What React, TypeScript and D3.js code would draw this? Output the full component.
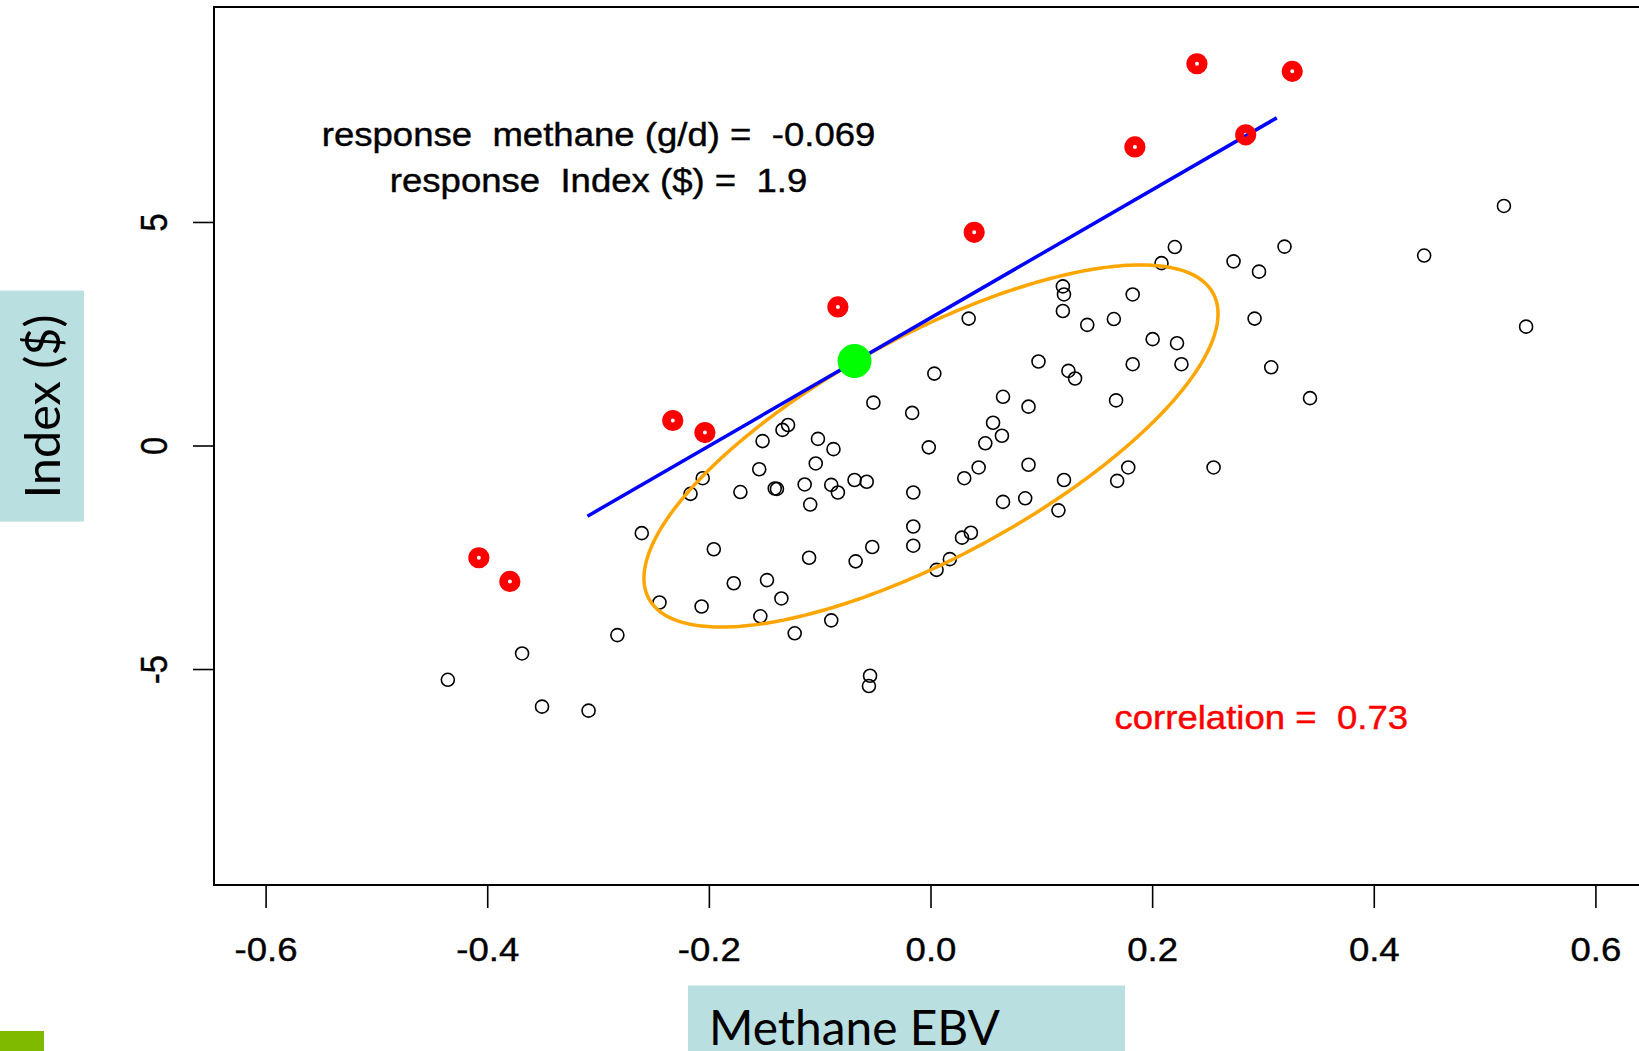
import React from 'react';
import * as d3 from 'd3';

// ---- data ----
const xTickValues = [-0.6, -0.4, -0.2, 0.0, 0.2, 0.4, 0.6];
const xTickLabels = ['-0.6', '-0.4', '-0.2', '0.0', '0.2', '0.4', '0.6'];
const yTickValues = [-5, 0, 5];
const yTickLabels = ['-5', '0', '5'];

const blackX = [
  -0.436, -0.369, -0.351, -0.309, -0.283, -0.261, -0.245, -0.217, -0.206, -0.207,
  -0.196, -0.178, -0.172, -0.155, -0.152, -0.154, -0.148, -0.141, -0.139, -0.135,
  -0.134, -0.129, -0.123, -0.114, -0.109, -0.110, -0.104, -0.102, -0.090, -0.084,
  -0.088, -0.090, -0.069, -0.058, -0.068, -0.055, -0.056, -0.053, -0.052, -0.017,
  -0.016, -0.016, -0.016, -0.002, 0.003, 0.005, 0.017, 0.028, 0.036, 0.030,
  0.034, 0.043, 0.049, 0.056, 0.064, 0.065, 0.065, 0.085, 0.088, 0.088,
  0.097, 0.115, 0.120, 0.119, 0.120, 0.119, 0.124, 0.130, 0.141, 0.165,
  0.167, 0.168, 0.178, 0.182, 0.182, 0.200, 0.208, 0.220, 0.222, 0.226,
  0.255, 0.273, 0.292, 0.296, 0.307, 0.319, 0.342, 0.445, 0.517, 0.537,
];
const blackY = [
  -5.23, -4.64, -5.83, -5.92, -4.23, -1.95, -3.50, -1.07, -0.72, -3.59,
  -2.31, -3.07, -1.03, -0.52, 0.11, -3.81, -3.00, -0.95, -0.96, -3.41,
  0.36, 0.47, -4.19, -0.86, -1.31, -2.50, -0.39, 0.16, -0.87, -1.04,
  -0.07, -3.90, -0.76, -0.80, -2.58, -5.14, -5.37, -2.26, 0.97, 0.74,
  -1.04, -1.80, -2.23, -0.03, 1.62, -2.77, -2.53, -2.05, -1.94, -0.72,
  2.85, -0.48, 0.06, 0.52, 0.23, 1.10, -1.25, -1.17, -0.42, 0.88,
  1.89, -1.44, -0.76, 3.57, 3.39, 3.02, 1.68, 1.51, 2.71, 2.84,
  1.02, -0.78, -0.48, 3.39, 1.83, 2.39, 4.09, 4.45, 2.30, 1.83,
  -0.48, 4.13, 2.85, 3.90, 1.76, 4.46, 1.07, 4.26, 5.37, 2.67,
];

const redX = [-0.408, -0.380, -0.233, -0.204, -0.084, 0.039, 0.184, 0.284, 0.240, 0.326];
const redY = [-2.50, -3.03, 0.57, 0.30, 3.11, 4.78, 6.69, 6.96, 8.55, 8.38];

const lineX = [-0.310, 0.312];
const lineY = [-1.57, 7.34];

const responseMethane = -0.069;
const responseIndex = 1.9;
const correlation = 0.73;

const ellipseCentre = [0, 0];
const ellipseScale = [0.259, 4.05];

const W = 1639;
const H = 1051;
const R_FONT = "'Liberation Sans', Arial, Helvetica, sans-serif";
const PPT_FONT = "Lato, 'Open Sans', sans-serif";
const FS = 32.5;
const STRETCH = 1.125;

export default function App() {
  const x = d3.scaleLinear().domain([-0.647, 0.647]).range([214, 1648]);
  const y = d3.scaleLinear().domain([-9.82, 9.82]).range([885, 7]);

  const delta = Math.acos(correlation);
  const ts = d3.range(0, 361).map((i) => (i * 2 * Math.PI) / 360);
  const ellPts = ts.map((t) => [
    ellipseCentre[0] + ellipseScale[0] * Math.cos(t),
    ellipseCentre[1] + ellipseScale[1] * Math.cos(t - delta),
  ]);
  const lineGen = d3
    .line()
    .x((p: any) => x(p[0]))
    .y((p: any) => y(p[1]));
  const ellPath = lineGen(ellPts as any) + 'Z';
  const regPath = lineGen(lineX.map((v, i) => [v, lineY[i]]) as any);

  const blacks = blackX.map((v, i) => [v, blackY[i]]);
  const reds = redX.map((v, i) => [v, redY[i]]);

  const textStyle: any = { whiteSpace: 'pre' };

  return (
    <svg
      width={W}
      height={H}
      viewBox={`0 0 ${W} ${H}`}
      style={{ position: 'absolute', left: 0, top: 0, display: 'block', background: '#fff' }}
    >
      <rect x={0} y={0} width={W} height={H} fill="#fff" />

      {/* plot box */}
      <rect x={x(-0.647)} y={y(9.82)} width={x(0.647) - x(-0.647)} height={y(-9.82) - y(9.82)} fill="none" stroke="#000" strokeWidth={2} />

      {/* x axis ticks */}
      {xTickValues.map((v, i) => (
        <g key={'xt' + i}>
          <line x1={x(v)} x2={x(v)} y1={885} y2={908} stroke="#000" strokeWidth={1.6} />
          <g transform={`translate(${x(v)},961) scale(${STRETCH},1)`}>
            <text x={0} y={0} textAnchor="middle" fontFamily={R_FONT} fontSize={FS} fill="#000" stroke="#000" strokeWidth={0.4}>
              {xTickLabels[i]}
            </text>
          </g>
        </g>
      ))}

      {/* y axis ticks */}
      {yTickValues.map((v, i) => (
        <g key={'yt' + i}>
          <line x1={193} x2={214} y1={y(v)} y2={y(v)} stroke="#000" strokeWidth={1.6} />
          <g transform={`translate(167,${y(v)}) scale(${STRETCH},1) rotate(-90)`}>
            <text x={0} y={0} textAnchor="middle" fontFamily={R_FONT} fontSize={FS} fill="#000" stroke="#000" strokeWidth={0.4}>
              {yTickLabels[i]}
            </text>
          </g>
        </g>
      ))}

      {/* black open circles */}
      {blacks.map((p, i) => (
        <circle key={'b' + i} cx={x(p[0])} cy={y(p[1])} r={6.5} fill="none" stroke="#000" strokeWidth={1.6} />
      ))}

      {/* orange ellipse */}
      <path d={ellPath} fill="none" stroke="#ffa500" strokeWidth={3.5} />

      {/* blue regression line */}
      <path d={regPath as string} fill="none" stroke="#0000ff" strokeWidth={3.5} />

      {/* red thick circles */}
      {reds.map((p, i) => (
        <circle key={'r' + i} cx={x(p[0])} cy={y(p[1])} r={6.3} fill="none" stroke="#ff0000" strokeWidth={8.6} />
      ))}

      {/* green response point */}
      <circle cx={x(responseMethane)} cy={y(responseIndex)} r={17} fill="#00ff00" />

      {/* annotations */}
      <g transform={`translate(${x(-0.3)},${y(6.71)}) scale(${STRETCH},1)`}>
        <text x={0} y={0} textAnchor="middle" fontFamily={R_FONT} fontSize={FS} fill="#000" stroke="#000" strokeWidth={0.4} style={textStyle}>
          {`response  methane (g/d) =  ${responseMethane}`}
        </text>
      </g>
      <g transform={`translate(${x(-0.3)},${y(5.69)}) scale(${STRETCH},1)`}>
        <text x={0} y={0} textAnchor="middle" fontFamily={R_FONT} fontSize={FS} fill="#000" stroke="#000" strokeWidth={0.4} style={textStyle}>
          {`response  Index ($) =  ${responseIndex}`}
        </text>
      </g>
      <g transform={`translate(${x(0.298)},${y(-6.34)}) scale(${STRETCH},1)`}>
        <text x={0} y={0} textAnchor="middle" fontFamily={R_FONT} fontSize={FS} fill="#ff0000" stroke="#ff0000" strokeWidth={0.4} style={textStyle}>
          {`correlation =  ${correlation}`}
        </text>
      </g>

      {/* y label box */}
      <rect x={0} y={290.6} width={84} height={231} fill="#b9dfe1" />
      <g transform="translate(60,498.5) rotate(-90)">
        <text x={0} y={0} textAnchor="start" fontFamily={PPT_FONT} fontSize={48} fill="#000" textLength={184} lengthAdjust="spacingAndGlyphs">
          Index ($)
        </text>
      </g>

      {/* x label box */}
      <rect x={688} y={985.5} width={437} height={66} fill="#b9dfe1" />
      <text x={709} y={1045} fontFamily={PPT_FONT} fontSize={48} fill="#000" textLength={291} lengthAdjust="spacingAndGlyphs">
        Methane EBV
      </text>

      {/* small green square */}
      <rect x={0} y={1031} width={44} height={20} fill="#7fba00" />
    </svg>
  );
}
